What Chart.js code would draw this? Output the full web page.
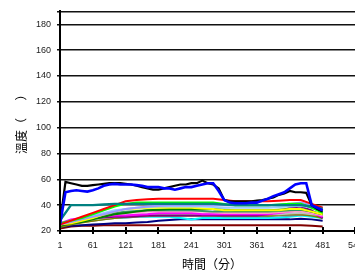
<!DOCTYPE html>
<html>
<head>
<meta charset="utf-8">
<script src="https://cdn.jsdelivr.net/npm/chart.js@4/dist/chart.umd.min.js"></script>
<style>
html,body{margin:0;padding:0;background:#fff;overflow:hidden;width:355px;height:274px;}
canvas{display:block;}
</style>
</head>
<body>
<canvas id="c" width="372" height="274"></canvas>
<script>
// time points (minutes)
const timesFine = [1,11,21,31,41,51,61,71,81,91,101,111,121,131,141,151,161,171,181,191,201,211,221,231,241,251,261,271,281,291,301,311,321,331,341,351,361,371,381,391,401,411,421,431,441,451,461,471,481];
const timesCoarse = [1,21,41,61,81,101,121,141,161,181,201,221,241,261,281,301,321,341,361,381,401,421,441,461,481];
const xTickLabels = [1,61,121,181,241,301,361,421,481,541];
const yTickLabels = [20,40,60,80,100,120,140,160,180];

// main probes (fine resolution)
const blueSeries = [25,50,51,51.5,51,50.5,51.5,53,55,56,56.5,56,56,56,55.5,55,54,54,54,53,53,52,53,54,54,55,56,57,57,51,44,42,41.5,41.5,41.5,42,42,43.5,45,47,48.5,50,53,56,57,57,40,38,36];
const blackSeries = [26,58,57,56,55,55,55.5,56,56.5,57,57,57,56.5,56,55,54,53,52,52,53,54,55,56,56,57,57,59,57,56,53,44,43,43,43,43,43,43.5,44,45,46,48,49,51,50,50,49.5,40,37,35];

// other probes (coarse resolution)
const tealSeries   = [28,40,40,40,40.5,41,41,41,41,41,41,41,41,41,41,40.5,40,40,40,40,40,40,40,39,37];
const redSeries    = [25,28,31,34,37,40,43,44,44.5,45,45,45,45,45,45,44,43,43,43,43,43.5,44,44,41,38];
const limeSeries   = [26,28,30,33,36,39,41,42,42,42,42,42,42,42,42,41,40,40,40,40,40.5,41,41,38,34];
const yellowSeries = [25,26,28,30,33,35,37,37.5,38,38,38,38,38,37.5,37,36,36,36,36,36,36,37,37,35,33];
const lavenderSeries = [25,27,29,31,33,35,37,38,39,39.5,40,40,40,40,40,40,40,40,40,40,40.5,41,42,40,38];
const greenSeries  = [24,26,27,29,31,33,34,35,36,36.5,37,37,37,37,37,36.5,36,36,36,36,36.5,37,37,35,33];
const magentaSeries= [26,29,30,31,31.5,32,32,32.5,33,34,34,34,34,33,33,33,33,33,33,33,34,35,36,34,31];
const purpleSeries = [25,28,29,30,30.5,31,31,31.5,32,32,32,32,32,32,32,32,32,32,32,33,35,38,39,36,30];
const graySeries   = [24,26,27,28,29,30,30.5,31,31.5,32,32,32,32,32,32,31.5,31.5,31.5,31.5,31.5,32,32,32.5,32,31];
const silverSeries = [25,27,28,29,30,31,32,32.5,33,33,33,33,33,33,33,33,33,33,33,33,33,33.5,34,33,32];
const cyanSeries   = [24,27,28,29,30,30,30.5,31,31,31,31,30,29,30,30,30,30,30,30,30,30.5,31,32,31,30];
const navySeries   = [23,24,24.5,25,25.5,26,26,26.5,27,28,28.5,29,29,29,29,29,29,29,29,29,29,29,29.5,29,28];
const maroonSeries = [22,23.5,24,24,24.5,24.5,24.5,24.5,24.5,24.5,24.5,24.5,24.5,24.5,24.5,24.5,24.5,24.5,24.5,24.5,24.5,24.5,24.5,24,23.5];
const oliveSeries  = [23,25,26.5,28,29,30,31,31.5,32,32,32,32,32,32,32,32,32,32,32,32,32.5,33,33,32,30];
const seaSeries    = [24,27,29,31,33,34,35,35.5,36,36,36,36,36,35.5,35,35,35,35,35,35,35.5,36,36.5,35,33];
const skySeries    = [25,28,30,32,34,36,37,38,38.5,39,39,39,39,39,38.5,38,38,38,38,38,38.5,39,39.5,38,36];
const pinkSeries   = [25,27,28.5,30,31.5,33,34,34.5,35,35,35,35,35,35,34.5,34,34,34,34,34,34.5,35,35.5,34,32];

function pts(times, vals){ return vals.map((v,i)=>({x:times[i], y:v})); }
function ds(times, vals, color, w){
  return {data: pts(times, vals), borderColor: color, backgroundColor: color, borderWidth: w||2, pointRadius: 0, tension: 0, fill: false};
}

const datasets = [
  ds(timesFine, blueSeries, '#0000ff', 2.6),
  ds(timesFine, blackSeries, '#000000', 2.2),
  ds(timesCoarse, tealSeries, '#008080', 2.4),
  ds(timesCoarse, redSeries, '#ff0000', 2),
  ds(timesCoarse, limeSeries, '#00ff00', 2),
  ds(timesCoarse, lavenderSeries, '#9999ff', 2),
  ds(timesCoarse, skySeries, '#99ccff', 2),
  ds(timesCoarse, yellowSeries, '#ffff00', 2),
  ds(timesCoarse, greenSeries, '#008000', 2),
  ds(timesCoarse, seaSeries, '#339966', 2),
  ds(timesCoarse, pinkSeries, '#ff99cc', 2),
  ds(timesCoarse, magentaSeries, '#ff00ff', 2),
  ds(timesCoarse, purpleSeries, '#800080', 2),
  ds(timesCoarse, silverSeries, '#c0c0c0', 2),
  ds(timesCoarse, oliveSeries, '#808000', 2),
  ds(timesCoarse, graySeries, '#808080', 2),
  ds(timesCoarse, cyanSeries, '#00ffff', 2),
  ds(timesCoarse, navySeries, '#000080', 2),
  ds(timesCoarse, maroonSeries, '#800000', 2)
];

const crossTicks = {
  id: 'crossTicks',
  afterDraw(chart){
    const x = chart.scales.x, a = chart.chartArea, ctx = chart.ctx;
    ctx.save();
    ctx.strokeStyle = '#000'; ctx.lineWidth = 2;
    x.ticks.forEach(t=>{
      const px = Math.round(x.getPixelForValue(t.value));
      ctx.beginPath(); ctx.moveTo(px, a.bottom - 4); ctx.lineTo(px, a.bottom + 3); ctx.stroke();
    });
    ctx.beginPath(); ctx.moveTo(a.left, a.top); ctx.lineTo(a.left, a.bottom + 1); ctx.stroke();
    ctx.restore();
  }
};

new Chart(document.getElementById('c'), {
  type: 'line',
  data: { datasets },
  options: {
    responsive: false,
    animation: false,
    events: [],
    layout: { padding: { left: 10, top: 4, right: 0, bottom: 0 } },
    plugins: { legend: { display: false }, tooltip: { enabled: false } },
    scales: {
      x: {
        type: 'linear', min: 1, max: 557,
        afterBuildTicks(s){ s.ticks = xTickLabels.map(v=>({value:v})); },
        afterFit(s){ s.height = 43; },
        grid: { drawOnChartArea: false, drawTicks: false, color: '#000' },
        border: { display: true, color: '#000', width: 2 },
        ticks: { padding: 9, maxRotation: 0, autoSkip: false, color: '#222', font: { family: 'Liberation Sans', size: 9 }, callback: v => String(v) },
        title: { display: true, text: '時間（分）', color: '#000', padding: { top: 0, bottom: 2 }, font: { family: 'Noto Sans CJK TC', size: 12 } }
      },
      y: {
        min: 20, max: 190,
        afterBuildTicks(s){ s.ticks = yTickLabels.concat([190]).map(v=>({value:v})); },
        afterFit(s){ s.width = 50; },
        grid: { color: '#111', lineWidth: 1.6, tickLength: 3, drawTicks: true },
        border: { display: true, color: '#000', width: 2 },
        ticks: { padding: 6, color: '#222', font: { family: 'Liberation Sans', size: 9 }, callback: v => (v === 190 ? '' : String(v)) },
        title: { display: true, text: '溫度（　  ）', color: '#000', padding: { top: 4, bottom: 4 }, font: { family: 'Noto Sans CJK TC', size: 12 } }
      }
    }
  },
  plugins: [crossTicks]
});
</script>
</body>
</html>
